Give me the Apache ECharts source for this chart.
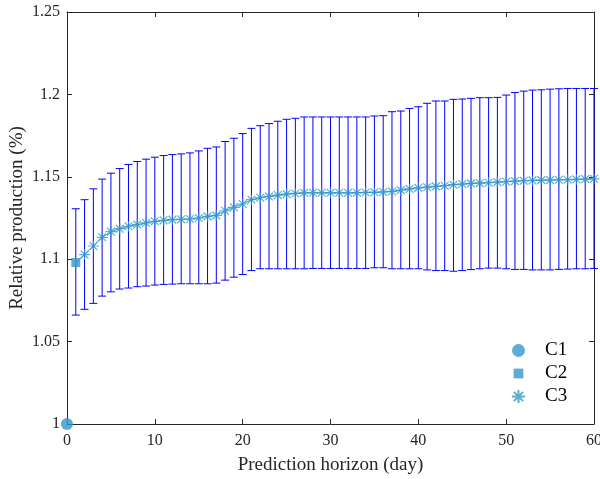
<!DOCTYPE html>
<html>
<head>
<meta charset="utf-8">
<script src="https://cdn.jsdelivr.net/npm/echarts@6/dist/echarts.min.js"></script>
<style>
html,body{margin:0;padding:0;background:#fff;}
#chart{width:600px;height:479px;}
</style>
</head>
<body>
<div id="chart"></div>
<script>
// ---- data ----
var c1Point = [[0, 1.0]];
var c2Day = [1];
var c2Mean = [1.098];
var c2Low = [1.0661];
var c2High = [1.1306];

var days = [2,3,4,5,6,7,8,9,10,11,12,13,14,15,16,17,18,19,20,21,22,23,24,25,26,27,28,29,30,31,32,33,34,35,36,37,38,39,40,41,42,43,44,45,46,47,48,49,50,51,52,53,54,55,56,57,58,59,60];
var c3Mean = [1.1028,1.1080,1.1133,1.1167,1.1185,1.1200,1.1210,1.1220,1.1230,1.1236,1.1240,1.1242,1.1244,1.1250,1.1260,1.1266,1.1294,1.1315,1.1335,1.1361,1.1373,1.1381,1.1389,1.1395,1.1399,1.1403,1.1403,1.1403,1.1403,1.1403,1.1403,1.1403,1.1405,1.1406,1.1408,1.1411,1.1419,1.1427,1.1433,1.1437,1.1442,1.1446,1.1452,1.1456,1.1460,1.1462,1.1464,1.1468,1.1470,1.1474,1.1476,1.1478,1.1480,1.1480,1.1482,1.1482,1.1484,1.1486,1.1488];
var c3High = [1.1361,1.1427,1.1486,1.1522,1.1550,1.1575,1.1593,1.1607,1.1619,1.1629,1.1635,1.1639,1.1645,1.1657,1.1673,1.1681,1.1714,1.1734,1.1762,1.1794,1.1810,1.1823,1.1837,1.1849,1.1855,1.1863,1.1863,1.1863,1.1863,1.1863,1.1863,1.1863,1.1863,1.1869,1.1871,1.1895,1.1899,1.1915,1.1925,1.1946,1.1960,1.1960,1.1970,1.1972,1.1976,1.1980,1.1980,1.1982,1.1996,1.2012,1.2020,1.2026,1.2028,1.2032,1.2034,1.2036,1.2036,1.2036,1.2036];
var c3Low = [1.0696,1.0732,1.0776,1.0802,1.0819,1.0825,1.0833,1.0837,1.0843,1.0847,1.0849,1.0851,1.0851,1.0851,1.0851,1.0855,1.0873,1.0891,1.0907,1.0931,1.0942,1.0942,1.0942,1.0942,1.0942,1.0942,1.0944,1.0944,1.0944,1.0944,1.0944,1.0944,1.0944,1.0948,1.0948,1.0942,1.0942,1.0942,1.0942,1.0935,1.0931,1.0931,1.0927,1.0931,1.0937,1.0942,1.0946,1.0946,1.0942,1.0938,1.0938,1.0935,1.0935,1.0935,1.0938,1.0940,1.0942,1.0942,1.0944];

var xTicks = {min: 0, max: 60, interval: 10};
var yTicks = {min: 1, max: 1.25, interval: 0.05};

// ---- build ----
var markerColor = '#3399cc';
var barColor = '#0000ff';
var axisColor = '#262626';
var serif = '"Liberation Serif", "Times New Roman", serif';
var asterisk = 'path://M5,0 L5,10 M0,5 L10,5 M1.46,1.46 L8.54,8.54 M8.54,1.46 L1.46,8.54';
var squareIcon = 'path://M0,0 L0,0 M1.5,1.5 L10.5,1.5 L10.5,10.5 L1.5,10.5 Z M12,12 L12,12';

var errData = [];
errData.push([c2Day[0], c2Low[0], c2High[0]]);
for (var i = 0; i < days.length; i++) errData.push([days[i], c3Low[i], c3High[i]]);

var c3Pts = [];
for (var j = 0; j < days.length; j++) c3Pts.push([days[j], c3Mean[j]]);
var linePts = [[c2Day[0], c2Mean[0]]].concat(c3Pts);

var chart = echarts.init(document.getElementById('chart'), null, {renderer: 'canvas'});

function axisCommon(extra) {
  var base = {
    type: 'value',
    axisLine: {show: true, onZero: false, lineStyle: {color: axisColor, width: 1}},
    axisTick: {show: true, inside: true, length: 5, lineStyle: {color: axisColor}},
    splitLine: {show: false},
    axisLabel: {show: false}
  };
  for (var k in extra) base[k] = extra[k];
  return base;
}

var option = {
  animation: false,
  backgroundColor: '#fff',
  grid: {left: 67, right: 6, top: 12, bottom: 55, containLabel: false, outerBoundsMode: 'none'},
  xAxis: [
    axisCommon({
      min: xTicks.min, max: xTicks.max, interval: xTicks.interval, position: 'bottom',
      axisLabel: {show: true, color: axisColor, fontFamily: serif, fontSize: 16, margin: 9},
      name: 'Prediction horizon (day)', nameLocation: 'middle', nameGap: 32, nameMoveOverlap: false,
      nameTextStyle: {color: axisColor, fontFamily: serif, fontSize: 19}
    }),
    axisCommon({min: xTicks.min, max: xTicks.max, interval: xTicks.interval, position: 'top'})
  ],
  yAxis: [
    axisCommon({
      min: yTicks.min, max: yTicks.max, interval: yTicks.interval, position: 'left',
      axisLabel: {show: true, color: axisColor, fontFamily: serif, fontSize: 16, margin: 7},
      name: 'Relative production (%)', nameLocation: 'middle', nameGap: 40, nameRotate: 90,
      nameMoveOverlap: false,
      nameTextStyle: {color: axisColor, fontFamily: serif, fontSize: 19}
    }),
    axisCommon({min: yTicks.min, max: yTicks.max, interval: yTicks.interval, position: 'right'})
  ],
  legend: {
    orient: 'vertical', left: 506, top: 336,
    itemWidth: 13, itemHeight: 13, itemGap: 4,
    textStyle: {color: '#000', fontFamily: serif, fontSize: 19, padding: [0, 0, 0, 15]},
    data: [
      {name: 'C1', icon: 'circle'},
      {name: 'C2', icon: squareIcon},
      {name: 'C3', icon: asterisk}
    ]
  },
  series: [
    {
      name: 'errorbars', type: 'custom', xAxisIndex: 0, yAxisIndex: 0,
      data: errData, clip: false, silent: true, z: 2,
      renderItem: function (params, api) {
        var x = api.value(0);
        var lo = api.coord([x, api.value(1)]);
        var hi = api.coord([x, api.value(2)]);
        var hw = 4;
        var st = {stroke: barColor, lineWidth: 1};
        return {
          type: 'group',
          children: [
            {type: 'line', shape: {x1: lo[0], y1: lo[1], x2: hi[0], y2: hi[1]}, style: st},
            {type: 'line', shape: {x1: lo[0] - hw, y1: lo[1], x2: lo[0] + hw, y2: lo[1]}, style: st},
            {type: 'line', shape: {x1: hi[0] - hw, y1: hi[1], x2: hi[0] + hw, y2: hi[1]}, style: st}
          ]
        };
      }
    },
    {
      name: 'C3line', type: 'line', data: linePts, showSymbol: false, symbol: 'none',
      lineStyle: {color: markerColor, width: 1}, z: 3, silent: true
    },
    {
      name: 'C1', type: 'scatter', data: c1Point, symbol: 'circle', symbolSize: 12,
      itemStyle: {color: markerColor}, clip: false, z: 5
    },
    {
      name: 'C2', type: 'scatter', data: [[c2Day[0], c2Mean[0]]], symbol: 'rect', symbolSize: 9,
      itemStyle: {color: markerColor}, clip: false, z: 5
    },
    {
      name: 'C3', type: 'scatter', data: c3Pts, symbol: asterisk, symbolSize: 11,
      itemStyle: {color: 'rgba(0,0,0,0)', borderColor: markerColor, borderWidth: 1.2}, clip: false, z: 4
    }
  ]
};
chart.setOption(option);
</script>
</body>
</html>
